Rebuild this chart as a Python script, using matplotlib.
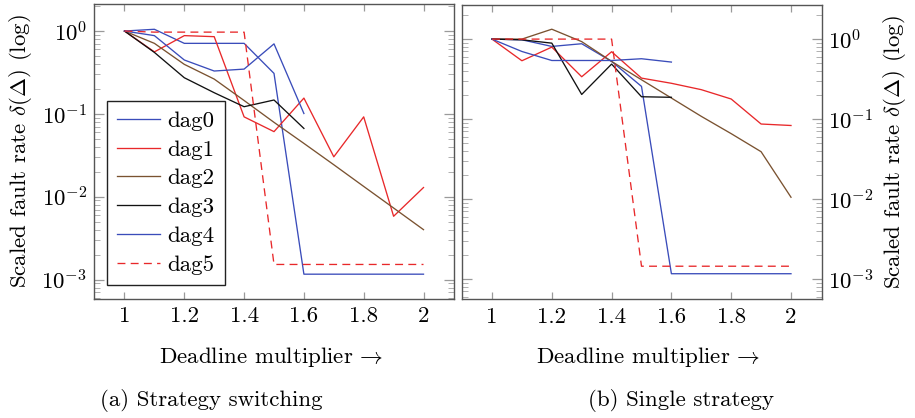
import matplotlib
matplotlib.use("Agg")
import matplotlib.pyplot as plt
from matplotlib.ticker import LogLocator, NullFormatter, FixedLocator

plt.rcParams['font.family'] = 'serif'
plt.rcParams['font.serif'] = ['cmr10']
plt.rcParams['mathtext.fontset'] = 'cm'
plt.rcParams['axes.formatter.use_mathtext'] = True

x = [1.0, 1.1, 1.2, 1.3, 1.4, 1.5, 1.6, 1.7, 1.8, 1.9, 2.0]
labels = ['dag0', 'dag1', 'dag2', 'dag3', 'dag4', 'dag5']
xticks = [1, 1.2, 1.4, 1.6, 1.8, 2]
xticklabels = ['1', '1.2', '1.4', '1.6', '1.8', '2']

# (a) Strategy switching
a_dag0 = [1.0, 1.05, 0.71, 0.71, 0.71, 0.308, 1.16e-3, 1.16e-3, 1.16e-3, 1.16e-3, 1.16e-3]
a_dag1 = [1.0, 0.56, 0.88, 0.855, 0.092, 0.061, 0.155, 0.0303, 0.092, 0.0058, 0.0129]
a_dag2 = [1.0, 0.71, 0.396, 0.263, 0.145, 0.079, 0.044, 0.0243, 0.0133, 0.0073, 0.0040]
a_dag3 = [1.0, 0.552, 0.273, 0.18, 0.122, 0.147, 0.0667]
a_dag4 = [1.0, 0.88, 0.447, 0.329, 0.347, 0.70, 0.101]
a_dag5 = [1.0, 0.97, 0.97, 0.97, 0.97, 1.52e-3, 1.52e-3, 1.52e-3, 1.52e-3, 1.52e-3, 1.52e-3]

# (b) Single strategy
b_dag0 = [1.0, 0.98, 0.81, 0.875, 0.526, 0.256, 1.16e-3, 1.16e-3, 1.16e-3, 1.16e-3, 1.16e-3]
b_dag1 = [1.0, 0.536, 0.794, 0.338, 0.695, 0.325, 0.28, 0.233, 0.178, 0.0866, 0.083]
b_dag2 = [1.0, 1.0, 1.33, 0.93, 0.526, 0.31, 0.183, 0.108, 0.0656, 0.039, 0.0105]
b_dag3 = [1.0, 0.98, 0.89, 0.203, 0.487, 0.19, 0.187]
b_dag4 = [1.0, 0.70, 0.54, 0.54, 0.54, 0.568, 0.516]
b_dag5 = [1.0, 1.0, 1.0, 1.0, 1.0, 1.44e-3, 1.44e-3, 1.44e-3, 1.44e-3, 1.44e-3, 1.44e-3]

BLUE = '#3a4cba'
RED = '#e8282a'
BROWN = '#7a5230'
BLACK = '#111111'
styles = [
    dict(color=BLUE, ls='-'),
    dict(color=RED, ls='-'),
    dict(color=BROWN, ls='-'),
    dict(color=BLACK, ls='-'),
    dict(color=BLUE, ls='-'),
    dict(color=RED, ls=(0, (6, 4))),
]

W, H = 915, 418
fig = plt.figure(figsize=(W / 100, H / 100), dpi=100)

def px_axes(l, t, r, b):
    return fig.add_axes([l / W, (H - b) / H, (r - l) / W, (b - t) / H])

axA = px_axes(94, 4, 454, 298.5)
axB = px_axes(461.5, 4.5, 821.5, 299)

FS = 16.5

def setup(ax, ylim, right):
    ax.set_yscale('log')
    ax.set_xlim(0.898, 2.102)
    ax.set_ylim(*ylim)
    ax.xaxis.set_major_locator(FixedLocator(xticks))
    ax.set_xticklabels(xticklabels, fontsize=FS)
    ax.yaxis.set_major_locator(LogLocator(base=10, numticks=10))
    ax.yaxis.set_minor_locator(LogLocator(base=10, subs=range(2, 10), numticks=20))
    ax.yaxis.set_minor_formatter(NullFormatter())
    ax.tick_params(axis='x', which='major', direction='in', top=True, bottom=True,
                   length=5, width=0.9, color='#9a9a9a', pad=6, labelsize=FS)
    ax.tick_params(axis='y', which='major', direction='in', left=True, right=True,
                   length=7, width=0.9, color='#9a9a9a', labelsize=FS, pad=5,
                   labelleft=not right, labelright=right)
    ax.tick_params(axis='y', which='minor', direction='in', left=True, right=True,
                   length=4.3, width=0.7, color='#b0b0b0')
    for s in ax.spines.values():
        s.set_color('#555555')
        s.set_linewidth(1.0)

setup(axA, (5.9e-4, 2.12), False)
setup(axB, (5.6e-4, 2.71), True)

for ax, data in ((axA, [a_dag0, a_dag1, a_dag2, a_dag3, a_dag4, a_dag5]),
                 (axB, [b_dag0, b_dag1, b_dag2, b_dag3, b_dag4, b_dag5])):
    for lab, ys, st in zip(labels, data, styles):
        ax.plot(x[:len(ys)], ys, label=lab, lw=0.95, **st)

leg = axA.legend(loc='upper left', bbox_to_anchor=((106.5 - 94) / 360, (298.5 - 100.5) / 294.5),
                 fontsize=FS, frameon=True, fancybox=False, handlelength=1.9,
                 handletextpad=0.3, labelspacing=0.38, borderpad=0.45, borderaxespad=0)
leg.get_frame().set_edgecolor('#222222')
leg.get_frame().set_linewidth(1.0)
leg.get_frame().set_alpha(1)

ylab = r'Scaled fault rate $\delta(\Delta)$ (log)'
fig.text(21 / W, 1 - 151 / H, ylab, rotation=90, ha='center', va='center', fontsize=FS)
fig.text(894 / W, 1 - 152 / H, ylab, rotation=90, ha='center', va='center', fontsize=FS)

xlab = r'Deadline multiplier$\,\rightarrow$'
fig.text(271 / W, 1 - 363 / H, xlab, ha='center', va='baseline', fontsize=FS)
fig.text(648 / W, 1 - 363 / H, xlab, ha='center', va='baseline', fontsize=FS)

fig.text(211 / W, 1 - 406 / H, '(a) Strategy switching', ha='center', va='baseline', fontsize=FS)
fig.text(681 / W, 1 - 406 / H, '(b) Single strategy', ha='center', va='baseline', fontsize=FS)

fig.savefig('out.png', dpi=100)
